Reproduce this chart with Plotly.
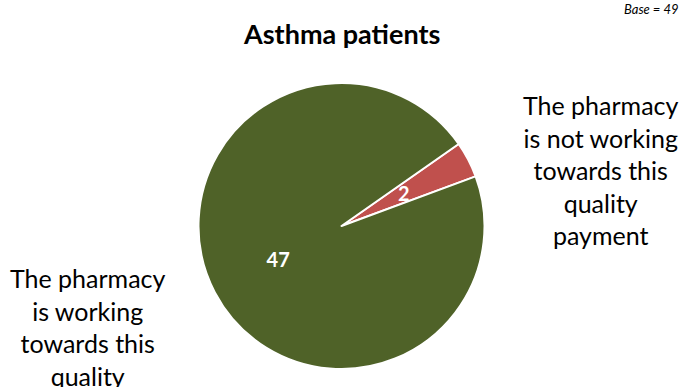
import math
import plotly.graph_objects as go

categories = ["The pharmacy is not working towards this quality payment",
              "The pharmacy is working towards this quality payment"]
label_lines = [["The pharmacy", "is not working", "towards this", "quality", "payment"],
               ["The pharmacy", "is working", "towards this", "quality", "payment"]]
values = [2, 47]
colors = ["#C0504D", "#4F6228"]
title_text = "Asthma patients"
base_text = "Base = 49"

FONT = "Lato"
W, H = 683, 387
cx, cy, r = 341.5, 226, 143
ROT = 55

fig = go.Figure(go.Pie(
    labels=categories,
    values=values,
    sort=False,
    direction="clockwise",
    rotation=ROT,
    marker=dict(colors=colors, line=dict(color="white", width=2)),
    texttemplate="<b>%{value}</b>",
    textposition=["none", "inside"],
    insidetextorientation="horizontal",
    textfont=dict(family=FONT, size=20, color="white"),
    hoverinfo="label+value",
    showlegend=False,
    domain=dict(x=[(cx - r) / W, (cx + r) / W], y=[1 - (cy + r) / H, 1 - (cy - r) / H]),
))

# value label of the small slice, placed at its mid-angle (derived from the data)
total = sum(values)
mid_from_top = ROT + values[0] / total * 360 / 2
ang = math.radians(90 - mid_from_top)
lx = cx + 0.49 * r * math.cos(ang)
ly = cy - 0.49 * r * math.sin(ang)
fig.add_annotation(text="<b>%d</b>" % values[0], x=lx / W, y=1 - ly / H, xref="paper", yref="paper",
                   showarrow=False, xanchor="center", yanchor="middle",
                   font=dict(family=FONT, size=20, color="white"))

fig.add_annotation(text="<b>" + title_text + "</b>", x=cx / W, y=1 - 33 / H, xref="paper", yref="paper",
                   showarrow=False, xanchor="center", yanchor="middle",
                   font=dict(family=FONT, size=27, color="black"))
fig.add_annotation(text="<i>" + base_text + "</i>", x=681 / W, y=1 - 9 / H, xref="paper", yref="paper",
                   showarrow=False, xanchor="right", yanchor="middle",
                   font=dict(family=FONT, size=13, color="black"))

fig.add_annotation(text="<br>".join(label_lines[0]), x=601 / W, y=1 - 88 / H, xref="paper", yref="paper",
                   showarrow=False, xanchor="center", yanchor="top", align="center",
                   font=dict(family=FONT, size=25, color="black"))
fig.add_annotation(text="<br>".join(label_lines[1]), x=88 / W, y=1 - 261 / H, xref="paper", yref="paper",
                   showarrow=False, xanchor="center", yanchor="top", align="center",
                   font=dict(family=FONT, size=25, color="black"))

fig.update_layout(width=W, height=H, margin=dict(l=0, r=0, t=0, b=0),
                  paper_bgcolor="white", plot_bgcolor="white")
fig.write_html("out.html")
